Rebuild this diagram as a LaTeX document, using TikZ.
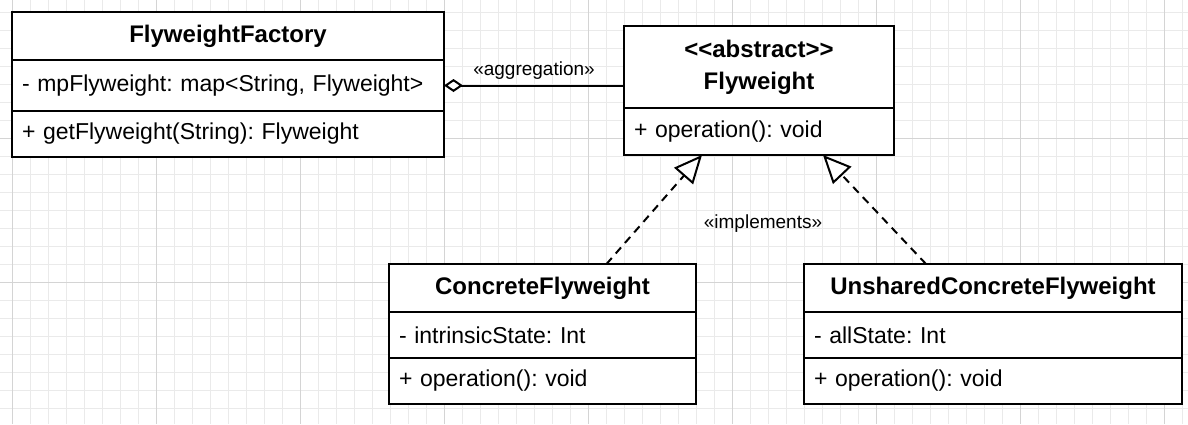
\documentclass[tikz,border=0pt]{standalone}
\usepackage{fontspec}
\setmainfont{Liberation Sans}
\usetikzlibrary{arrows.meta,positioning}
\definecolor{gridminor}{RGB}{234,234,234}
\definecolor{gridmajor}{RGB}{212,212,212}
\newcommand{\clsfont}{\fontsize{12}{16}\selectfont\bfseries}
\newcommand{\memfont}{\fontsize{11.5}{13}\selectfont}
\newcommand{\lblfont}{\fontsize{9.5}{11}\selectfont}
\frenchspacing
\tikzstyle{cls}=[draw,line width=1.1pt,fill=white,outer sep=0pt,inner sep=0pt,font=\clsfont,align=center]
\tikzstyle{member}=[draw,line width=1.1pt,fill=white,outer sep=0pt,inner ysep=0pt,inner xsep=5pt,font=\memfont,align=left]
\tikzstyle{aggr}=[draw,line width=1pt,{Diamond[fill=white,length=9.5pt,width=6.5pt]}-]
\tikzstyle{impl}=[draw,line width=1pt,dash pattern=on 4pt off 3pt,-{Triangle[fill=white,length=14pt,width=12.5pt]}]
\tikzstyle{minorline}=[draw=gridminor,line width=0.5pt]
\tikzstyle{majorline}=[draw=gridmajor,line width=0.5pt]
\begin{document}
\begin{tikzpicture}[x=0.5pt,y=-0.5pt]

            \useasboundingbox[fill=white] (0,0) rectangle (1188,424);
            \foreach \gx in {12,30,...,1188} \path[minorline] (\gx,0) -- (\gx,424);
            \foreach \gy in {12,30,...,424} \path[minorline] (0,\gy) -- (1188,\gy);
            \foreach \gx in {12,156,...,1188} \path[majorline] (\gx,0) -- (\gx,424);
            \foreach \gy in {138,282} \path[majorline] (0,\gy) -- (1188,\gy);

            \node[cls,anchor=north west,minimum width=216pt,minimum height=24pt] (fac) at (12,12) {FlyweightFactory};
            \node[member,below=0pt of fac,text width=206pt,minimum height=25.5pt] (facA) {- mpFlyweight: map<String, Flyweight>};
            \node[member,below=0pt of facA,text width=206pt,minimum height=23pt] (facM) {+ getFlyweight(String): Flyweight};

            \node[cls,anchor=north west,minimum width=135pt,minimum height=41pt] (fw) at (624,26) {<\kern0pt<abstract>\kern0pt>\\Flyweight};
            \node[member,below=0pt of fw,text width=125pt,minimum height=23.5pt] (fwM) {+ operation(): void};

            \node[cls,anchor=north west,minimum width=153.5pt,minimum height=24pt] (cf) at (389,264) {ConcreteFlyweight};
            \node[member,below=0pt of cf,text width=143.5pt,minimum height=23pt] (cfA) {- intrinsicState: Int};
            \node[member,below=0pt of cfA,text width=143.5pt,minimum height=23pt] (cfM) {+ operation(): void};

            \node[cls,anchor=north west,minimum width=189pt,minimum height=24pt] (ucf) at (804,264) {UnsharedConcreteFlyweight};
            \node[member,below=0pt of ucf,text width=179pt,minimum height=23pt] (ucfA) {- allState: Int};
            \node[member,below=0pt of ucfA,text width=179pt,minimum height=23pt] (ucfM) {+ operation(): void};

            \path[aggr] (facA.east) -- (facA.east -| fw.west) node[midway,above=-1pt,font=\lblfont] (aggrlbl) {«aggregation»};
            \path[impl] ([xshift=32pt]cf.north) -- ([xshift=-28.5pt]fwM.south);
            \path[impl] ([xshift=-33.5pt]ucf.north) -- ([xshift=32pt]fwM.south);
            \node[font=\lblfont] (impllbl) at (763,224) {«implements»};
        \end{tikzpicture}
\end{document}
